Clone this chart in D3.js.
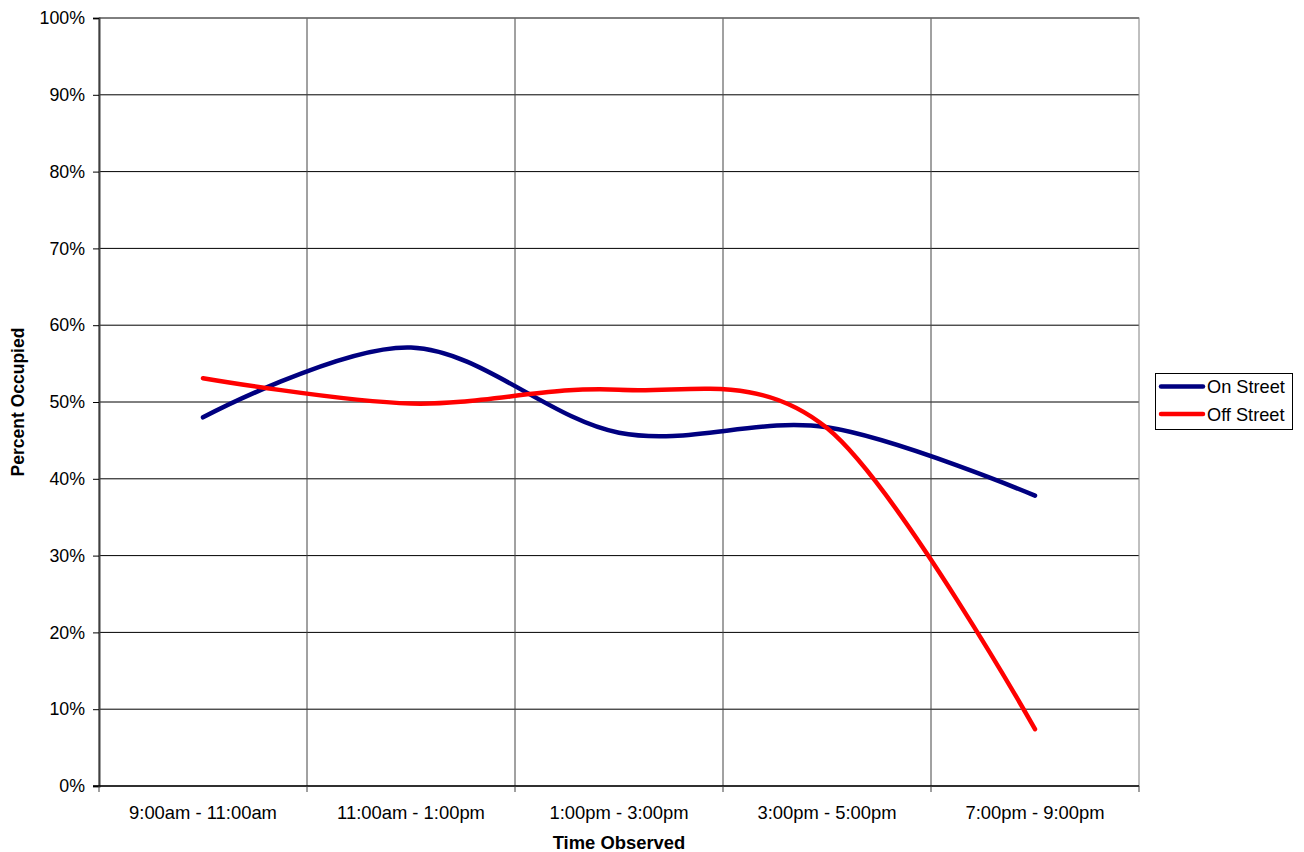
<!DOCTYPE html>
<html>
<head>
<meta charset="utf-8">
<script src="https://cdn.jsdelivr.net/npm/d3@7"></script>
<style>
  html, body { margin: 0; padding: 0; background: #fff; }
  svg { display: block; font-family: "Liberation Sans", Arial, sans-serif; }
</style>
</head>
<body>
<svg id="chart" width="1304" height="852"></svg>
<script>
// Parking occupancy by observation period
const categories = ["9:00am - 11:00am", "11:00am - 1:00pm", "1:00pm - 3:00pm", "3:00pm - 5:00pm", "7:00pm - 9:00pm"];
const onStreet  = [48.0, 57.1, 46.0, 46.7, 37.8];
const offStreet = [53.1, 49.8, 51.6, 46.6, 7.4];
const yTicks = [0, 10, 20, 30, 40, 50, 60, 70, 80, 90, 100];
const seriesNames = ["On Street", "Off Street"];
const seriesColors = ["#000080", "#ff0000"];

const svg = d3.select("#chart");
const plot = { left: 99, right: 1139, top: 18, bottom: 786 };

const x = d3.scaleBand().domain(categories).range([plot.left, plot.right]).paddingInner(0).paddingOuter(0);
const y = d3.scaleLinear().domain([0, 100]).range([plot.bottom, plot.top]);
const cx = c => x(c) + x.bandwidth() / 2;

// horizontal gridlines
svg.append("g")
  .selectAll("line").data(yTicks.filter(t => t > 0)).join("line")
  .attr("x1", plot.left).attr("x2", plot.right)
  .attr("y1", d => y(d)).attr("y2", d => y(d))
  .attr("stroke", "#000").attr("stroke-width", 1);

// vertical gridlines at category boundaries
const bounds = categories.map(c => x(c)).concat([plot.right]);
svg.append("g")
  .selectAll("line").data(bounds.slice(1, -1)).join("line")
  .attr("x1", d => d).attr("x2", d => d)
  .attr("y1", plot.top).attr("y2", plot.bottom)
  .attr("stroke", "#444").attr("stroke-width", 1);

// plot frame
svg.append("rect")
  .attr("x", plot.left).attr("y", plot.top)
  .attr("width", plot.right - plot.left).attr("height", plot.bottom - plot.top)
  .attr("fill", "none").attr("stroke", "#808080").attr("stroke-width", 1);

// y axis
const yAxis = svg.append("g").attr("transform", `translate(${plot.left},0)`)
  .call(d3.axisLeft(y).tickValues(yTicks).tickFormat(d => d + "%").tickSize(6).tickPadding(8));
yAxis.select(".domain").attr("stroke", "#404040").attr("stroke-width", 2);
yAxis.selectAll(".tick line").attr("stroke", "#000");
yAxis.selectAll("text").attr("font-size", 17.8).attr("fill", "#000")
  .attr("font-family", "Liberation Sans, Arial, sans-serif");

// x axis
const xAxisG = svg.append("g").attr("transform", `translate(0,${plot.bottom})`);
xAxisG.append("line")
  .attr("x1", plot.left - 6).attr("x2", plot.right)
  .attr("y1", 0).attr("y2", 0).attr("stroke", "#000").attr("stroke-width", 1.5);
xAxisG.selectAll("line.tk").data(bounds).join("line").attr("class", "tk")
  .attr("x1", d => d).attr("x2", d => d).attr("y1", 0).attr("y2", 6)
  .attr("stroke", "#404040");
xAxisG.selectAll("text").data(categories).join("text")
  .attr("x", d => cx(d)).attr("y", 33)
  .attr("text-anchor", "middle").attr("font-size", 18.4).attr("fill", "#000")
  .text(d => d);

// axis titles
svg.append("text")
  .attr("x", (plot.left + plot.right) / 2).attr("y", 849)
  .attr("text-anchor", "middle").attr("font-size", 18.4).attr("font-weight", "bold")
  .text("Time Observed");
svg.append("text")
  .attr("transform", `translate(24,${(plot.top + plot.bottom) / 2}) rotate(-90)`)
  .attr("text-anchor", "middle").attr("font-size", 17.5).attr("font-weight", "bold")
  .text("Percent Occupied");

// smoothed series lines
const line = d3.line()
  .x((d, i) => cx(categories[i]))
  .y(d => y(d))
  .curve(d3.curveCardinal.tension(0));

[onStreet, offStreet].forEach((vals, i) => {
  svg.append("path")
    .datum(vals)
    .attr("d", line)
    .attr("fill", "none")
    .attr("stroke", seriesColors[i])
    .attr("stroke-width", 4.5)
    .attr("stroke-linecap", "round")
    .attr("stroke-linejoin", "round");
});

// legend
const legend = svg.append("g");
legend.append("rect")
  .attr("x", 1155.5).attr("y", 373.5).attr("width", 137).attr("height", 56)
  .attr("fill", "#fff").attr("stroke", "#000").attr("stroke-width", 1);
seriesNames.forEach((name, i) => {
  const ly = 386.5 + i * 27.5;
  legend.append("line")
    .attr("x1", 1161).attr("x2", 1203).attr("y1", ly).attr("y2", ly)
    .attr("stroke", seriesColors[i]).attr("stroke-width", 4.5).attr("stroke-linecap", "round");
  legend.append("text")
    .attr("x", 1207).attr("y", ly + 6.5)
    .attr("font-size", 18.2).attr("fill", "#000")
    .text(name);
});
</script>
</body>
</html>
